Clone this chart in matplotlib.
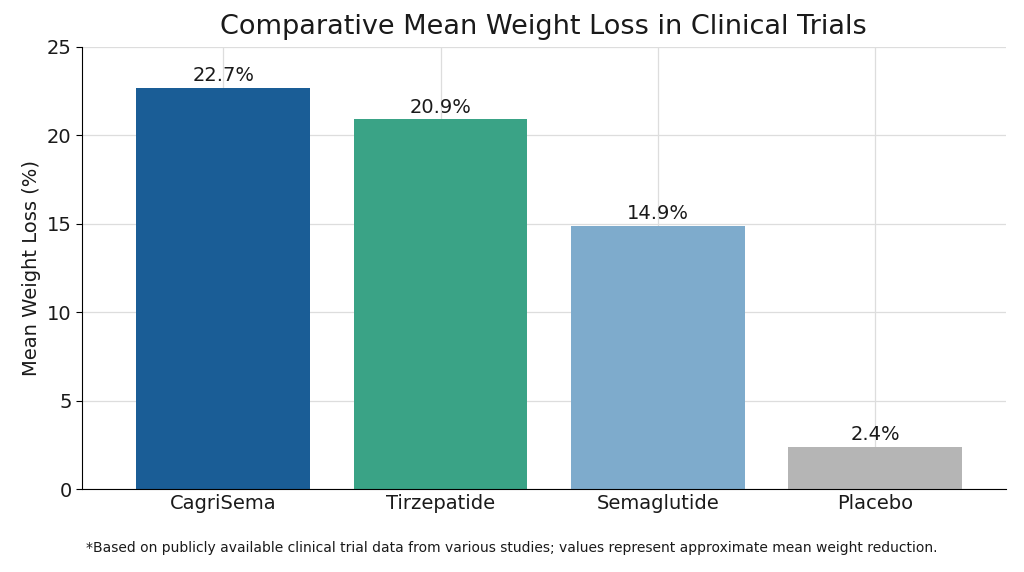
import matplotlib
matplotlib.use("Agg")
import matplotlib.pyplot as plt

categories = ["CagriSema", "Tirzepatide", "Semaglutide", "Placebo"]
values = [22.7, 20.9, 14.9, 2.4]
colors = ["#1a5d96", "#3aa386", "#7eabcc", "#b5b5b5"]
yticks = [0, 5, 10, 15, 20, 25]

fig = plt.figure(figsize=(10.24, 5.72), dpi=100)
ax = fig.add_axes([0.080, 0.145, 0.902, 0.773])
ax.set_axisbelow(True)
ax.grid(True, color="#dddddd", linewidth=0.9)
x = list(range(len(categories)))
bars = ax.bar(x, values, width=0.8, color=colors)
for xi, v in zip(x, values):
    ax.text(xi, v + 0.15, f"{v}%", ha="center", va="bottom", fontsize=14, color="#1a1a1a")
ax.set_xticks(x)
ax.set_xticklabels(categories, fontsize=14, color="#1a1a1a")
ax.set_yticks(yticks)
ax.tick_params(axis="y", labelsize=14, direction="out", length=4, labelcolor="#1a1a1a")
ax.tick_params(axis="x", direction="in", length=5)
ax.set_xlim(-0.65, 3.6)
ax.set_ylim(0, 25)
ax.set_ylabel("Mean Weight Loss (%)", fontsize=14, color="#1a1a1a")
ax.set_title("Comparative Mean Weight Loss in Clinical Trials", fontsize=19.5, pad=9, color="#1a1a1a")
for s in ["top", "right"]:
    ax.spines[s].set_visible(False)
fig.text(0.5, 0.042, "*Based on publicly available clinical trial data from various studies; values represent approximate mean weight reduction.",
         ha="center", va="center", fontsize=10.0, color="#1a1a1a")
fig.savefig("out.png", dpi=100)
